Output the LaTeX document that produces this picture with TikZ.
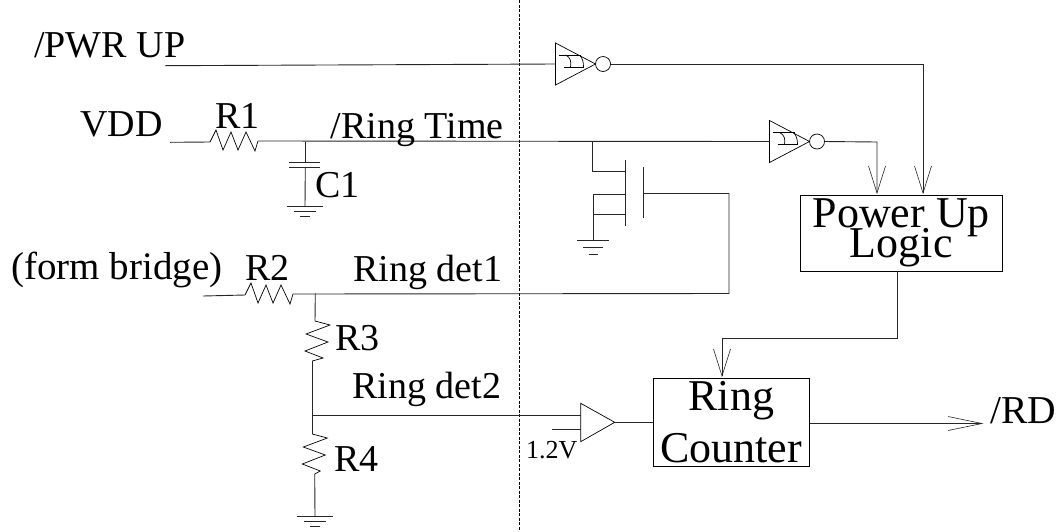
\documentclass[tikz,border=0pt]{standalone}
\usepackage{fontspec}
\setmainfont{Liberation Serif}
\usetikzlibrary{arrows.meta,positioning}

\tikzset{
  wire/.style = {line width=0.9pt, black!85},
  part/.style = {line width=0.7pt, black},
  open/.style = {-{Straight Barb[length=27pt,width=17pt,line width=0.6pt]}},
  openlong/.style = {-{Straight Barb[length=34pt,width=14pt,line width=0.6pt]}},
  lbl/.style = {inner sep=0pt, anchor=base west, font=\fontsize{38}{38}\selectfont},
  lblwide/.style = {lbl, font=\fontsize{39.5}{40}\selectfont},
  blocktext/.style = {draw, wire, black, align=center, inner sep=0pt, anchor=north west, font=\fontsize{44}{30}\selectfont},
  % zigzag, 48 long
  resistor/.pic = {
    \draw[part] (0,0) -- (6,-12) -- (13,8) -- (21,-10) -- (28,8) -- (36,-10) -- (45,9) -- (48,-1);
    \coordinate (-in) at (0,0);
    \coordinate (-out) at (48,-1);
  },
  % upright zigzag, #1 is the sideways shift of its end
  pics/resistorv/.style = {code = {
    \draw[part] (0,0) -- (15,4) -- (-9,13) -- (13,21) -- (-10,30) -- (8,37) -- (#1,40);
    \coordinate (-in) at (0,0);
    \coordinate (-out) at (#1,40);
  }},
  ground/.pic = {
    \draw[wire] (-18,0) -- (18,0) (-11,5) -- (11,5) (-5,10) -- (5,10);
    \coordinate (-top) at (0,0);
  },
  % Schmitt inverter
  schmitt/.pic = {
    \draw[part] (0,-21) -- (0,21) -- (40,0) -- cycle;
    \draw[part] (3,-9) -- (25,-9) (8,3) -- (28,3);
    \draw[part] (10,-9) .. controls (15,-7) and (16,-2) .. (15,3);
    \draw[part] (24,-9) .. controls (27,-6) and (28,-2) .. (28,3);
    \draw[part] (47.5,0) circle (7.5);
    \coordinate (-in) at (0,0);
    \coordinate (-out) at (55,0);
  }
}

\begin{document}
\begin{tikzpicture}[x=1pt,y=-1pt]
\useasboundingbox (0,0) rectangle (1056,531);

% dashed divider
\draw[line width=0.8pt, dash pattern=on 3pt off 1.5pt] (519.5,0) -- (519.5,531);

% blocks
\node[blocktext, minimum width=201.5pt, minimum height=76pt] (logic) at (800,194.5) {\raisebox{-2pt}{Power Up}\\[-9pt]Logic};
\node[blocktext, minimum width=156.5pt, minimum height=88.5pt] (counter) at (652.5,377.5) {Ring\\[12pt]Counter};

% gates
\pic (inva) at (555.5,64) {schmitt};
\pic (invb) at (769.5,141.5) {schmitt};
\draw[part] (580.7,403.3) -- (580.7,441.7) -- (614.7,422.3) -- cycle;
\coordinate (cmpin) at (580.7,415);
\coordinate (cmpref) at (580.7,429.7);
\coordinate (cmpout) at (614.7,422.3);

% parts
\pic (ra) at (210,142) {resistor};
\pic (rb) at (245,295) {resistor};
\pic (rc) at (315,321) {resistorv=-2.7};
\pic (rd) at (312.3,434) {resistorv=2.4};
\pic (gnda) at (305,206) {ground};
\pic[yscale=1.4,xscale=.9] (gndb) at (593,240.5) {ground};
\pic (gndc) at (315,516.5) {ground};

% free ends and corners
\coordinate (pwr) at (165,65.7);
\coordinate (vdd) at (170,142.3);
\coordinate (bridge) at (203,296);
\coordinate (nodea) at (305.3,141.5);
\coordinate (nodeb) at (315.3,293.5);
\coordinate (nodec) at (312.3,415);
\coordinate (draina) at (592,141.5);
\coordinate (bend) at (897.5,338);

\draw[wire] (pwr) -- (inva-in);
\draw[wire] (vdd) -- (ra-in);
\draw[wire] (ra-out) -- (invb-in);
\draw[wire] (bridge) -- (rb-in);
\draw[wire] (rb-out) -- (729,293.5) -- (729,193.5) -- (643,193.5);

% C1
\draw[wire] (nodea) -- (305.3,162);
\draw[wire] (289,162) -- (320,162) (289,167.5) -- (320,167.5);
\draw[wire] (305.3,167.5) -- (gnda-top);

% FET
\draw[wire] (draina) -- (592,171.5) -- (625,171.5);
\draw[wire] (625,160) -- (625,226);
\draw[wire] (643,167) -- (643,218);
\draw[wire] (625,194.5) -- (593,194.5) -- (gndb-top);
\draw[wire] (593,214.5) -- (625,214.5);

% R3, R4
\draw[wire] (nodeb) -- (rc-in);
\draw[wire] (rc-out) -- (rd-in);
\draw[wire] (rd-out) -- (gndc-top);
\draw[wire] (nodec) -- (cmpin);
\draw[wire] (551.7,429.7) -- (cmpref);
\draw[wire] (cmpout) -- (counter.west |- cmpout);

% outputs
\draw[wire, open] (inva-out) -- (923,64) -- (923,194);
\draw[wire, open] (invb-out) -- (877,142) -- (877,194);
\draw[wire, open] (bend |- logic.south) -- (bend) -- (722,338) -- (722,377);
\draw[wire, openlong] (counter.east |- 0,423.5) -- (983.5,423.5);

% labels
\node[lbl] (tpwr) at (34,57.5) {/PWR UP};
\node[lbl] (tvdd) at (80,136.7) {VDD};
\node[lbl] (tra) at (215,128.3) {R1};
\node[lbl] (tring) at (330.7,138.3) {/Ring Time};
\node[lbl] (tca) at (315,197.7) {C1};
\node[lbl, font=\fontsize{39}{39}\selectfont] (tbridge) at (11,279.5) {(form bridge)};
\node[lbl] (trb) at (245,280) {R2};
\node[lbl] (tdeta) at (353,281.7) {Ring det1};
\node[lbl] (trc) at (335,350.7) {R3};
\node[lbl] (tdetb) at (352,398) {Ring det2};
\node[lbl] (trd) at (334,471) {R4};
\node[lbl, font=\fontsize{26}{26}\selectfont] (tref) at (526,458) {1.2V};
\node[lblwide] (trdout) at (990,423) {/RD};
\end{tikzpicture}
\end{document}
